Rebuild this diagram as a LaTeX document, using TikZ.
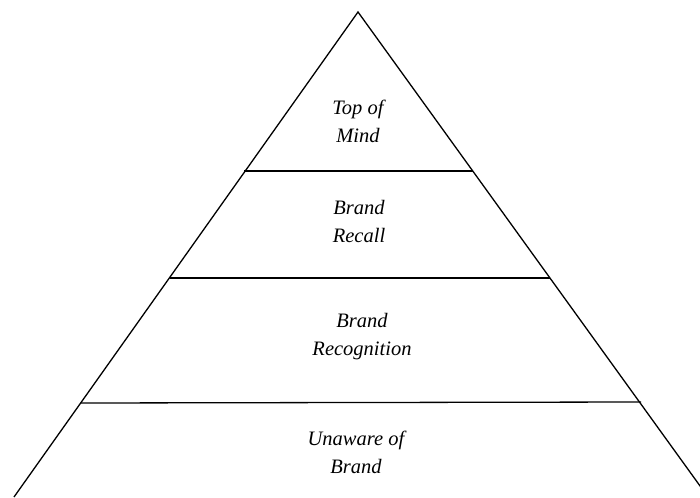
\documentclass[tikz,border=0pt]{standalone}
\usepackage{fontspec}
\setmainfont{Liberation Serif}
\begin{document}
\begin{tikzpicture}[x=1pt,y=-1pt,
  edge/.style={line width=1.3pt,black},
  level/.style={line width=1.3pt,black},
  lab/.style={align=center,font=\fontsize{20.5}{28}\selectfont\itshape,inner sep=0pt}]
\useasboundingbox (0,0) rectangle (700,497);
\clip (0,0) rectangle (700,497);
\coordinate (apex) at (358,12);
\coordinate (bl) at (14,497);
\coordinate (br) at (708,497);
\draw[edge] (bl) -- (apex) -- (br);
\coordinate (l1a) at (244,171); \coordinate (l1b) at (473,171);
\coordinate (l2a) at (170,278); \coordinate (l2b) at (550,278);
\coordinate (l3a) at (81,403);  \coordinate (l3b) at (641,402);
\draw[level] (l1a) -- (l1b);
\draw[level] (l2a) -- (l2b);
\draw[level] (l3a) -- (l3b);
\node[lab] (top) at (358,121) {Top of\\Mind};
\node[lab] (recall) at (359,221) {Brand\\Recall};
\node[lab] (recog) at (362,337) {Brand\\Recognition};
\node[lab] (unaware) at (356,452) {Unaware of\\Brand};
\end{tikzpicture}
\end{document}
